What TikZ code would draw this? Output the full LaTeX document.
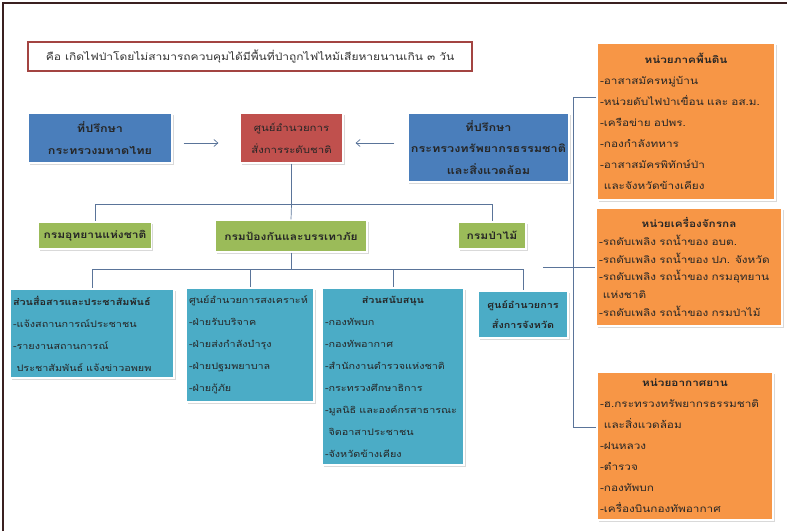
\documentclass[tikz,border=0pt]{standalone}
\usepackage{fontspec}
\setmainfont{Loma}[Script=Thai,FakeStretch=1.2]
\usepackage{xcolor}
\usetikzlibrary{arrows.meta,positioning,shadows}

\definecolor{advblue}{HTML}{4A7EBB}
\definecolor{cmdred}{HTML}{C0504D}
\definecolor{deptgreen}{HTML}{9BBB59}
\definecolor{unitteal}{HTML}{4BACC6}
\definecolor{resorange}{HTML}{F79646}
\definecolor{linkblue}{HTML}{5A7499}
\definecolor{framebrown}{HTML}{3A2020}

\begin{document}
\begin{tikzpicture}[x=1pt,y=-1pt,font=\fontsize{9}{17.5}\selectfont,
  box/.style={draw=white,line width=1.2pt,inner sep=3pt,text=black!85,
    drop shadow={shadow xshift=1.5pt,shadow yshift=-1.5pt,opacity=0.3}},
  advisor/.style={box,fill=advblue,align=center,font=\bfseries\fontsize{10.5}{21.5}\selectfont},
  command/.style={box,fill=cmdred,align=center,font=\fontsize{9.5}{22}\selectfont},
  dept/.style={box,fill=deptgreen,align=center,font=\bfseries\fontsize{10}{12}\selectfont},
  unit/.style={box,fill=unitteal,align=left,font=\fontsize{9}{22}\selectfont},
  resource/.style={box,fill=resorange,align=left,font=\fontsize{9.8}{21}\selectfont},
  link/.style={draw=linkblue,line width=0.7pt},
  arrow/.style={link,-{Straight Barb[length=4pt,width=7pt]}}]

  \useasboundingbox (0,0) rectangle (787,531);
  \draw[framebrown,line width=2pt] (3,531) -- (3,3) -- (787,3);

  \node[draw=cmdred!85!black,line width=1.4pt,fill=white,minimum width=444pt,minimum height=29pt,
    font=\fontsize{10}{12}\selectfont,text=black!80] (case) at (250,56.5)
    {คือ เกิดไฟป่าโดยไม่สามารถควบคุมได้มีพื้นที่ป่าถูกไฟไหม้เสียหายนานเกิน ๓ วัน};

  \node[advisor,minimum width=144pt,minimum height=50pt] (advMoi) at (100,138)
    {ที่ปรึกษา\\กระทรวงมหาดไทย};
  \node[command,minimum width=103pt,minimum height=50pt] (cmdNat) at (291.5,138)
    {ศูนย์อำนวยการ\\สั่งการระดับชาติ};
  \node[advisor,minimum width=155pt,minimum height=69pt] (advEnv) at (488.5,147.5)
    {ที่ปรึกษา\\กระทรวงทรัพยากรธรรมชาติ\\และสิ่งแวดล้อม};

  \draw[arrow,shorten <=11pt,shorten >=21pt] ([yshift=-5pt]advMoi.east) -- ([yshift=-5pt]cmdNat.west);
  \draw[arrow,shorten <=13pt,shorten >=12pt] ([yshift=-5pt]advEnv.west |- cmdNat.east) -- ([yshift=-5pt]cmdNat.east);

  \node[dept,minimum width=113pt,minimum height=27pt] (deptPark) at (95,235.5) {กรมอุทยานแห่งชาติ};
  \node[dept,minimum width=152pt,minimum height=32pt] (deptDis) at (291,236) {กรมป้องกันและบรรเทาภัย};
  \node[dept,minimum width=68pt,minimum height=27pt] (deptFor) at (492,235.5) {กรมป่าไม้};

  \draw[link] (cmdNat.south) -- ++(0,41) coordinate (hubDept);
  \draw[link] (hubDept) -| (deptPark.north);
  \draw[link] (hubDept) -| (deptFor.north);
  \draw[link] (hubDept) -- (deptDis.north);

  \node[unit,text width=158pt,minimum height=89pt] (unitPr) at (92,333.5)
    {\textbf{ส่วนสื่อสารและประชาสัมพันธ์}\\
     -แจ้งสถานการณ์ประชาชน\\
     -รายงานสถานการณ์\\
     \phantom{-}ประชาสัมพันธ์ แจ้งข่าวอพยพ};
  \node[unit,text width=122pt,minimum height=114pt] (unitRelief) at (250,345)
    {ศูนย์อำนวยการสงเคราะห์\\
     -ฝ่ายรับบริจาค\\
     -ฝ่ายส่งกำลังบำรุง\\
     -ฝ่ายปฐมพยาบาล\\
     -ฝ่ายกู้ภัย};
  \node[unit,text width=136pt,minimum height=177pt] (unitSup) at (393,376.5)
    {{\centering\textbf{ส่วนสนับสนุน}\par}\raggedright
     -กองทัพบก\\
     -กองทัพอากาศ\\
     -สำนักงานตำรวจแห่งชาติ\\
     -กระทรวงศึกษาธิการ\\
     -มูลนิธิ และองค์กรสาธารณะ\\
     \phantom{-}จิตอาสาประชาชน\\
     -จังหวัดข้างเคียง};
  \node[unit,align=center,minimum width=90pt,minimum height=47pt,font=\bfseries\fontsize{9}{20}\selectfont]
    (unitProv) at (523,314.5) {ศูนย์อำนวยการ\\สั่งการจังหวัด};

  \draw[link] (deptDis.south) -- ++(0,17) coordinate (hubUnit);
  \draw[link] (hubUnit) -| (unitPr.north);
  \draw[link] (hubUnit) -| (unitRelief.north);
  \draw[link] (hubUnit) -| (unitSup.north);
  \draw[link] (hubUnit) -| (unitProv.north);

  \node[resource,text width=172pt,minimum height=157pt] (resGround) at (686,121.5)
    {{\centering\textbf{หน่วยภาคพื้นดิน}\par}\raggedright
     -อาสาสมัครหมู่บ้าน\\
     -หน่วยดับไฟป่าเขื่อน และ อส.ม.\\
     -เครือข่าย อปพร.\\
     -กองกำลังทหาร\\
     -อาสาสมัครพิทักษ์ป่า\\
     \phantom{-}และจังหวัดข้างเคียง};
  \node[resource,text width=180pt,minimum height=118pt,font=\fontsize{9.8}{17.8}\selectfont] (resMach) at (689,267)
    {{\centering\textbf{หน่วยเครื่องจักรกล}\par}\raggedright
     -รถดับเพลิง รถน้ำของ อบต.\\
     -รถดับเพลิง รถน้ำของ ปภ. จังหวัด\\
     -รถดับเพลิง รถน้ำของ กรมอุทยาน\\
     \phantom{-}แห่งชาติ\\
     -รถดับเพลิง รถน้ำของ กรมป่าไม้};
  \node[resource,text width=170pt,minimum height=148pt] (resAir) at (685,446)
    {{\centering\textbf{หน่วยอากาศยาน}\par}\raggedright
     -ฮ.กระทรวงทรัพยากรธรรมชาติ\\
     \phantom{-}และสิ่งแวดล้อม\\
     -ฝนหลวง\\
     -ตำรวจ\\
     -กองทัพบก\\
     -เครื่องบินกองทัพอากาศ};

  \coordinate (stub) at (543,267);
  \draw[link] ([yshift=24.5pt]resGround.west) -- ++(-23,0) |- ([yshift=19pt]resAir.west);
  \draw[link] (stub) -- (resMach.west);

\end{tikzpicture}
\end{document}
